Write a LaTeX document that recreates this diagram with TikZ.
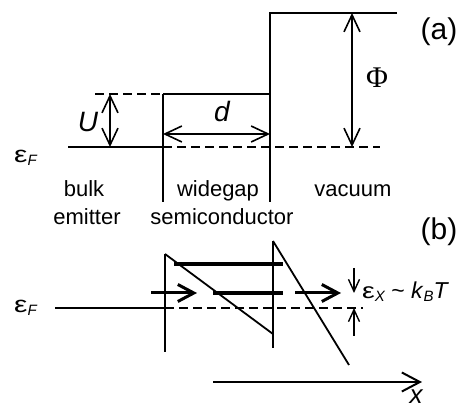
\documentclass[tikz,border=0pt]{standalone}
\usepackage{fontspec}
\setmainfont{Liberation Sans}
\newfontfamily\seriffont{Liberation Serif}
\usetikzlibrary{arrows.meta}
\newcommand{\fsz}[1]{\fontsize{#1}{#1}\selectfont}
\newcommand{\epsF}{\scalebox{1.3}[1]{\fsz{23}ε}\raisebox{-3pt}{\fsz{15}\itshape F}}
\tikzset{
  solidline/.style={line width=1.8pt},
  dashline/.style={line width=1.5pt, dash pattern=on 9pt off 5pt},
  thickbar/.style={line width=4.2pt},
  dimarrow/.style={line width=1.6pt, {Straight Barb[length=17pt,width=16pt]}-{Straight Barb[length=17pt,width=16pt]}},
  boldarrow/.style={line width=3pt, -{Straight Barb[length=16pt,width=17pt]}},
  smallarrow/.style={line width=1.4pt, -{Straight Barb[length=12pt,width=11pt]}},
  axisarrow/.style={line width=2pt, -{Straight Barb[length=18pt,width=19pt]}},
  lab/.style={inner sep=0pt, font=\fsz{22}},
  symlab/.style={inner sep=0pt, font=\fsz{28}\itshape},
  panellab/.style={inner sep=0pt, font=\fsz{30}}
}
\begin{document}
\begin{tikzpicture}[x=1pt,y=-1pt]
\useasboundingbox (0,0) rectangle (467,409);

% ---------------- panel (a) ----------------
\coordinate (fa0) at (68,147);
\coordinate (sL) at (163,147);
\coordinate (sLt) at (163,94);
\coordinate (sLb) at (163,202);
\coordinate (sRt) at (270,94);
\coordinate (vT) at (270,13);
\coordinate (vE) at (397,13);
\coordinate (sRb) at (270,202);
\coordinate (uL) at (95,94);
\coordinate (fEnd) at (380,147);

\draw[solidline] (fa0) -- (sL);
\draw[solidline] (sLt) -- (sLb);
\draw[solidline] (sLt) -- (sRt);
\draw[solidline] (vE) -- (vT) -- (sRb);
\draw[dashline] (uL) -- (sLt);
\draw[dashline] (sL) -- (fEnd);

\coordinate (uT) at (110,94);
\coordinate (uB) at (110,147);
\draw[dimarrow] (uT) -- (uB);
\coordinate (dL) at (163,134);
\coordinate (dR) at (270,134);
\draw[dimarrow] (dL) -- (dR);
\coordinate (pT) at (352,13);
\coordinate (pB) at (352,147);
\draw[dimarrow] (pT) -- (pB);

\node[symlab, anchor=base] (U) at (88,132) {U};
\node[symlab, anchor=base] (d) at (222,122) {d};
\node[inner sep=0pt, anchor=base, font=\seriffont\fsz{30}] (Phi) at (377,88) {Φ};
\node[panellab, anchor=base] (pa) at (439,40) {(a)};
\node[inner sep=0pt, anchor=base west] (eFa) at (14,163) {\epsF};

\node[lab, anchor=base] (bulk) at (84,197) {bulk};
\node[lab, anchor=base] (emitter) at (87,225) {emitter};
\node[lab, anchor=base] (widegap) at (218,197) {widegap};
\node[lab, anchor=base] (semi) at (222,225) {semiconductor};
\node[lab, anchor=base] (vacuum) at (353,197) {vacuum};

% ---------------- panel (b) ----------------
\node[panellab, anchor=base] (pb) at (439,240) {(b)};

\coordinate (bLt) at (165,254);
\coordinate (bLb) at (165,352);
\coordinate (bRt) at (273,241);
\coordinate (bRb) at (273,348);
\coordinate (h1e) at (273,334);
\coordinate (h2e) at (349,365);
\draw[solidline] (bLt) -- (bLb);
\draw[solidline] (bRt) -- (bRb);
\draw[solidline] (bLt) -- (h1e);
\draw[solidline] (bRt) -- (h2e);

\coordinate (tb1) at (174,264);
\coordinate (tb2) at (283,264);
\coordinate (mb1) at (213,293);
\coordinate (mb2) at (283,293);
\draw[thickbar] (tb1) -- (tb2);
\draw[thickbar] (mb1) -- (mb2);

\coordinate (a1s) at (151,293);
\coordinate (a1e) at (197,293);
\coordinate (a2s) at (295,293);
\coordinate (a2e) at (341,293);
\draw[boldarrow] (a1s) -- (a1e);
\draw[boldarrow] (a2s) -- (a2e);

\coordinate (fb0) at (55,308);
\coordinate (fb1) at (165,308);
\coordinate (fb2) at (363,308);
\draw[solidline] (fb0) -- (fb1);
\draw[dashline] (fb1) -- (fb2);

\coordinate (ex1s) at (354,268);
\coordinate (ex1e) at (354,293);
\coordinate (ex2s) at (354,336);
\coordinate (ex2e) at (354,308);
\draw[smallarrow] (ex1s) -- (ex1e);
\draw[smallarrow] (ex2s) -- (ex2e);

\node[inner sep=0pt, anchor=base west] (eFb) at (14,313) {\epsF};
\node[inner sep=0pt, anchor=base west] (ex) at (362,299)
  {\scalebox{1.3}[1]{\fsz{22}ε}\raisebox{-3pt}{\fsz{15}\itshape X}\fsz{23}\ \textasciitilde\ \textit{k}\raisebox{-3pt}{\fsz{15}\itshape B}\textit{T}};

\coordinate (xs) at (213,382);
\coordinate (xe) at (422,382);
\draw[axisarrow] (xs) -- (xe);
\node[inner sep=0pt, anchor=base, font=\fsz{26}\itshape] (xl) at (416,404) {x};
\end{tikzpicture}
\end{document}
